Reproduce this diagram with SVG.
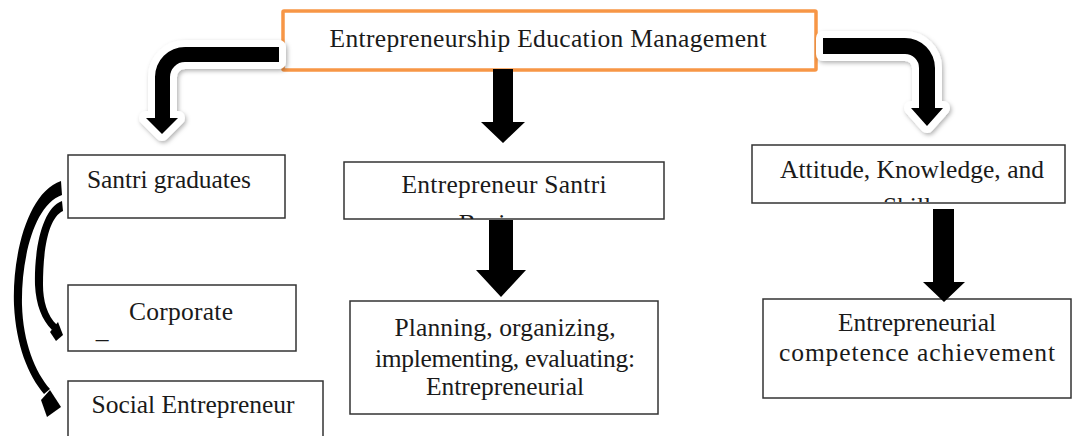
<svg xmlns="http://www.w3.org/2000/svg" width="1075" height="436" viewBox="0 0 1075 436">
  <style>
    .box { fill: #ffffff; stroke: #333333; stroke-width: 1.5; }
    .main { fill: #ffffff; stroke: #F79646; stroke-width: 3.5; }
    .lbl { font-family: "Liberation Serif", "Times New Roman", serif; font-size: 25.5px; fill: #1a1a1a; text-anchor: middle; }
    .bent { fill: #000000; stroke: #ffffff; stroke-width: 14; stroke-linejoin: round; paint-order: stroke; filter: url(#shadow); }
    .solid { fill: #000000; }
  </style>
  <defs>
    <filter id="shadow" x="-20%" y="-20%" width="140%" height="140%">
      <feDropShadow dx="1.5" dy="2" stdDeviation="2" flood-color="#000000" flood-opacity="0.3"/>
    </filter>
    <clipPath id="clip-santri"><rect x="344" y="162" width="320" height="57"/></clipPath>
    <clipPath id="clip-attitude"><rect x="752" y="145" width="313" height="57"/></clipPath>
  </defs>

  <!-- top node -->
  <g id="node-management">
    <rect class="main" x="283" y="11" width="533" height="59" rx="1"/>
    <text class="lbl" x="548" y="47" textLength="437">Entrepreneurship Education Management</text>
  </g>

  <!-- left column -->
  <g id="node-graduates">
    <rect class="box" x="68" y="155" width="217" height="63"/>
    <text class="lbl" x="169" y="188" textLength="164">Santri graduates</text>
  </g>
  <g id="node-corporate">
    <rect class="box" x="68" y="285" width="228" height="66"/>
    <text class="lbl" x="181" y="320" textLength="104">Corporate</text>
    <text class="lbl" x="102" y="338">_</text>
  </g>
  <g id="node-social">
    <rect class="box" x="68" y="381" width="255" height="70"/>
    <text class="lbl" x="193" y="413" textLength="203">Social Entrepreneur</text>
  </g>

  <!-- middle column -->
  <g id="node-santri">
    <rect class="box" x="344" y="162" width="320" height="57"/>
    <g clip-path="url(#clip-santri)">
      <text class="lbl" x="504" y="193" textLength="205">Entrepreneur Santri</text>
      <text class="lbl" x="504" y="232">Business</text>
    </g>
  </g>
  <g id="node-planning">
    <rect class="box" x="350" y="301" width="308" height="113"/>
    <text class="lbl" x="505" y="336" textLength="221">Planning, organizing,</text>
    <text class="lbl" x="505" y="367" textLength="260">implementing, evaluating:</text>
    <text class="lbl" x="505" y="395" textLength="158">Entrepreneurial</text>
  </g>

  <!-- right column -->
  <g id="node-attitude">
    <rect class="box" x="752" y="145" width="313" height="58"/>
    <g clip-path="url(#clip-attitude)">
      <text class="lbl" x="912" y="178" textLength="264">Attitude, Knowledge, and</text>
      <text class="lbl" x="912" y="215">Skills</text>
    </g>
  </g>
  <g id="node-competence">
    <rect class="box" x="763" y="299" width="308" height="99"/>
    <text class="lbl" x="917" y="331" textLength="158">Entrepreneurial</text>
    <text class="lbl" x="917" y="361" textLength="276">competence achievement</text>
  </g>

  <!-- connectors -->
  <g id="connectors">
    <!-- bent arrows leaving the top node -->
    <path class="bent" d="M 279 47 L 185 47 A 30 30 0 0 0 155 77 L 155 118 L 146 118 L 162 134 L 178 118 L 170 118 L 170 77 A 15 15 0 0 1 185 62 L 279 62 Z"/>
    <path class="bent" d="M 823 38 L 905 38 A 30 30 0 0 1 935 68 L 935 108 L 943 108 L 927 126 L 911 108 L 919 108 L 919 68 A 14 14 0 0 0 905 54 L 823 54 Z"/>

    <!-- straight block arrows -->
    <path class="solid" d="M 493 69 L 513 69 L 513 122 L 525 122 L 503 143 L 481 122 L 493 122 Z"/>
    <path class="solid" d="M 489 220 L 513 220 L 513 270 L 526 270 L 501 297 L 476 270 L 489 270 Z"/>
    <path class="solid" d="M 933 209 L 954 209 L 954 282 L 965 282 L 944 302 L 923 282 L 933 282 Z"/>

    <!-- curved arrows from Santri graduates -->
    <path class="solid" d="M 61 181 C 28 192 12 255 14 305 C 16 345 28 375 44 394 L 50 389 C 35 372 23 342 22 305 C 21 262 33 205 62 195 Z"/>
    <polygon class="solid" points="41,400 50,390 61,407 47,417"/>
    <path class="solid" d="M 62 201 C 42 208 34 250 35 285 C 36 305 42 320 52 330 L 57 325 C 47 316 43 300 43 285 C 43 250 48 218 63 211 Z"/>
    <polygon class="solid" points="50,332 58,322 63,335 56,341"/>
  </g>
</svg>
